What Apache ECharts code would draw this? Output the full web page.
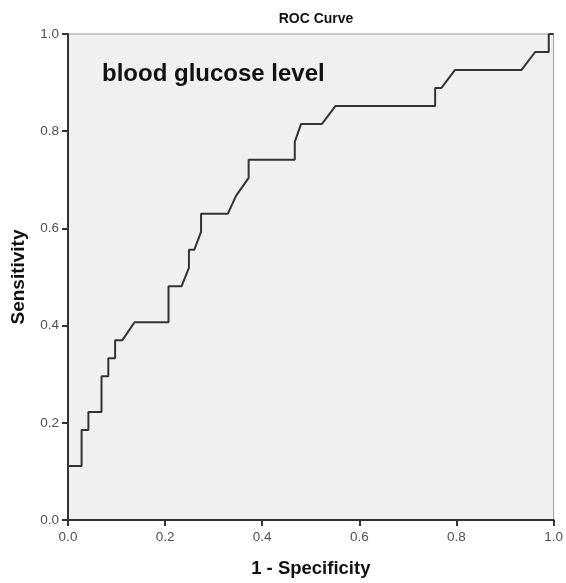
<!DOCTYPE html>
<html>
<head>
<meta charset="utf-8">
<script src="https://cdn.jsdelivr.net/npm/echarts@6/dist/echarts.min.js"></script>
<style>html,body{margin:0;padding:0;background:#fff}#c{width:566px;height:583px}</style>
</head>
<body>
<div id="c"></div>
<script>
var chartTitle = 'ROC Curve';
var curveLabel = 'blood glucose level';
var xName = '1 - Specificity';
var yName = 'Sensitivity';
var tickValues = [0, 0.2, 0.4, 0.6, 0.8, 1.0];
var fpr = [0, 0, 0.028, 0.028, 0.042, 0.042, 0.069, 0.069, 0.083, 0.083, 0.097, 0.097, 0.112, 0.137, 0.207, 0.207, 0.234, 0.249, 0.249, 0.260, 0.274, 0.274, 0.329, 0.346, 0.372, 0.372, 0.467, 0.467, 0.480, 0.523, 0.551, 0.756, 0.756, 0.769, 0.797, 0.934, 0.962, 0.990, 0.990, 1.0];
var tpr = [0, 0.111, 0.111, 0.185, 0.185, 0.222, 0.222, 0.296, 0.296, 0.333, 0.333, 0.370, 0.370, 0.407, 0.407, 0.481, 0.481, 0.519, 0.556, 0.556, 0.593, 0.630, 0.630, 0.667, 0.704, 0.741, 0.741, 0.778, 0.815, 0.815, 0.852, 0.852, 0.889, 0.889, 0.926, 0.926, 0.963, 0.963, 1.0, 1.0];

var pts = fpr.map(function (x, i) { return [x, tpr[i]]; });
var chart = echarts.init(document.getElementById('c'), null, {renderer: 'canvas'});
var font = '"Liberation Sans", Arial, sans-serif';
function axisCommon(name, gap, nameSize) {
  return {
    type: 'value', min: tickValues[0], max: tickValues[tickValues.length - 1], interval: 0.2,
    name: name, nameLocation: 'middle', nameGap: gap,
    nameTextStyle: {fontFamily: font, fontWeight: 'bold', fontSize: nameSize, color: '#111'},
    axisLine: {show: true, lineStyle: {color: '#333', width: 2}},
    axisTick: {show: true, length: 6, lineStyle: {color: '#333', width: 2}},
    axisLabel: {fontFamily: font, fontSize: 13.5, color: '#505050', margin: 9,
      formatter: function (v) { return v.toFixed(1); }},
    splitLine: {show: false}
  };
}
var xa = axisCommon(xName, 39, 18.5);
xa.axisLabel.margin = 10;
var ya = axisCommon(yName, 40, 19);
chart.setOption({
  animation: false,
  backgroundColor: '#fff',
  grid: {left: 68, right: 10, top: 34, bottom: 63, show: true, backgroundColor: '#f0f0f0', borderColor: '#999', borderWidth: 1},
  title: {text: chartTitle, left: 311, top: 7, textAlign: 'center',
    textStyle: {fontFamily: font, fontWeight: 'bold', fontSize: 14, color: '#111'}},
  graphic: [{type: 'text', left: 102, top: 62, z: 10,
    style: {text: curveLabel, fontFamily: font, fontWeight: 'bold', fontSize: 24, fill: '#111'}}],
  xAxis: xa,
  yAxis: ya,
  series: [{type: 'line', data: pts, symbol: 'none', lineStyle: {color: '#333', width: 2}, z: 5}]
});
</script>
</body>
</html>
